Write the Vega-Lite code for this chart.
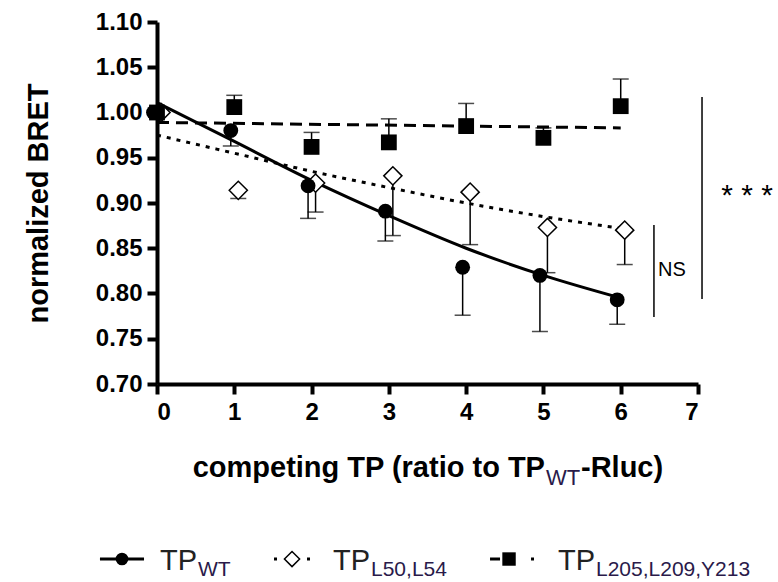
{
  "$schema": "https://vega.github.io/schema/vega-lite/v6.json",
  "width": 541,
  "height": 362,
  "autosize": {"type": "none"},
  "padding": {"left": 157, "top": 22, "right": 80, "bottom": 198},
  "background": "white",
  "config": {
    "view": {"stroke": null},
    "font": "Liberation Sans",
    "axis": {
      "grid": false,
      "domainColor": "black",
      "domainWidth": 4,
      "tickColor": "black",
      "tickWidth": 4,
      "tickSize": 10,
      "labelColor": "black",
      "labelFont": "Liberation Sans",
      "labelFontSize": 24,
      "labelFontWeight": "bold",
      "titleFont": "Liberation Sans",
      "titleFontSize": 29,
      "titleFontWeight": "bold",
      "titleColor": "black"
    }
  },
  "datasets": {
    "pts": [
      {"s": "WT", "x": 0, "y": 1.000, "e": 1.000},
      {"s": "WT", "x": 1, "y": 0.980, "e": 0.963},
      {"s": "WT", "x": 2, "y": 0.919, "e": 0.883},
      {"s": "WT", "x": 3, "y": 0.891, "e": 0.858},
      {"s": "WT", "x": 4, "y": 0.829, "e": 0.776},
      {"s": "WT", "x": 5, "y": 0.820, "e": 0.758},
      {"s": "WT", "x": 6, "y": 0.793, "e": 0.766},
      {"s": "L50", "x": 0, "y": 1.000, "e": 1.000},
      {"s": "L50", "x": 1, "y": 0.914, "e": 0.905},
      {"s": "L50", "x": 2, "y": 0.922, "e": 0.890},
      {"s": "L50", "x": 3, "y": 0.930, "e": 0.864},
      {"s": "L50", "x": 4, "y": 0.912, "e": 0.854},
      {"s": "L50", "x": 5, "y": 0.873, "e": 0.823},
      {"s": "L50", "x": 6, "y": 0.870, "e": 0.832},
      {"s": "L205", "x": 0, "y": 1.000, "e": 1.000},
      {"s": "L205", "x": 1, "y": 1.006, "e": 1.019},
      {"s": "L205", "x": 2, "y": 0.962, "e": 0.978},
      {"s": "L205", "x": 3, "y": 0.967, "e": 0.993},
      {"s": "L205", "x": 4, "y": 0.985, "e": 1.010},
      {"s": "L205", "x": 5, "y": 0.972, "e": 0.983},
      {"s": "L205", "x": 6, "y": 1.007, "e": 1.037}
    ],
    "fits": [
      {"s": "WT", "x": 0, "y": 1.011},
      {"s": "WT", "x": 1, "y": 0.968},
      {"s": "WT", "x": 2, "y": 0.925},
      {"s": "WT", "x": 3, "y": 0.886},
      {"s": "WT", "x": 4, "y": 0.850},
      {"s": "WT", "x": 5, "y": 0.820},
      {"s": "WT", "x": 6, "y": 0.795},
      {"s": "L50", "x": 0, "y": 0.975},
      {"s": "L50", "x": 1, "y": 0.955},
      {"s": "L50", "x": 2, "y": 0.935},
      {"s": "L50", "x": 3, "y": 0.917},
      {"s": "L50", "x": 4, "y": 0.900},
      {"s": "L50", "x": 5, "y": 0.885},
      {"s": "L50", "x": 6, "y": 0.872},
      {"s": "L205", "x": 0, "y": 0.989},
      {"s": "L205", "x": 6, "y": 0.983}
    ]
  },
  "layer": [
    {
      "data": {"name": "fits"},
      "transform": [{"filter": "datum.s == 'WT'"}],
      "mark": {"type": "line", "color": "black", "strokeWidth": 3, "interpolate": "monotone"},
      "encoding": {
        "x": {"field": "x", "type": "quantitative",
              "scale": {"domain": [0, 7], "nice": false, "zero": false},
              "axis": {"values": [0, 1, 2, 3, 4, 5, 6, 7], "format": "d", "title": null, "labelPadding": 6}},
        "y": {"field": "y", "type": "quantitative",
              "scale": {"domain": [0.7, 1.1], "nice": false, "zero": false},
              "axis": {"values": [0.7, 0.75, 0.8, 0.85, 0.9, 0.95, 1.0, 1.05, 1.1], "format": ".2f",
                       "title": "normalized BRET", "labelPadding": 5, "titlePadding": 42}}
      }
    },
    {
      "data": {"name": "fits"},
      "transform": [{"filter": "datum.s == 'L50'"}],
      "mark": {"type": "line", "color": "black", "strokeWidth": 3, "strokeDash": [4, 6], "interpolate": "monotone"},
      "encoding": {"x": {"field": "x", "type": "quantitative"}, "y": {"field": "y", "type": "quantitative"}}
    },
    {
      "data": {"name": "fits"},
      "transform": [{"filter": "datum.s == 'L205'"}],
      "mark": {"type": "line", "color": "black", "strokeWidth": 3, "strokeDash": [12, 7]},
      "encoding": {"x": {"field": "x", "type": "quantitative"}, "y": {"field": "y", "type": "quantitative"}}
    },
    {
      "data": {"name": "pts"},
      "transform": [{"filter": "datum.s == 'L50'"}],
      "mark": {"type": "rule", "color": "black", "strokeWidth": 1.5, "xOffset": 4},
      "encoding": {"x": {"field": "x", "type": "quantitative"}, "y": {"field": "y", "type": "quantitative"}, "y2": {"field": "e"}}
    },
    {
      "data": {"name": "pts"},
      "transform": [{"filter": "datum.s == 'L50' && datum.x > 0"}],
      "mark": {"type": "tick", "orient": "horizontal", "color": "black", "size": 16, "thickness": 1.5, "xOffset": 4},
      "encoding": {"x": {"field": "x", "type": "quantitative"}, "y": {"field": "e", "type": "quantitative"}}
    },
    {
      "data": {"name": "pts"},
      "transform": [{"filter": "datum.s == 'WT'"}],
      "mark": {"type": "rule", "color": "black", "strokeWidth": 1.5, "xOffset": -3.5},
      "encoding": {"x": {"field": "x", "type": "quantitative"}, "y": {"field": "y", "type": "quantitative"}, "y2": {"field": "e"}}
    },
    {
      "data": {"name": "pts"},
      "transform": [{"filter": "datum.s == 'WT' && datum.x > 0"}],
      "mark": {"type": "tick", "orient": "horizontal", "color": "black", "size": 16, "thickness": 1.5, "xOffset": -3.5},
      "encoding": {"x": {"field": "x", "type": "quantitative"}, "y": {"field": "e", "type": "quantitative"}}
    },
    {
      "data": {"name": "pts"},
      "transform": [{"filter": "datum.s == 'L205'"}],
      "mark": {"type": "rule", "color": "black", "strokeWidth": 1.5},
      "encoding": {"x": {"field": "x", "type": "quantitative"}, "y": {"field": "y", "type": "quantitative"}, "y2": {"field": "e"}}
    },
    {
      "data": {"name": "pts"},
      "transform": [{"filter": "datum.s == 'L205' && datum.x > 0"}],
      "mark": {"type": "tick", "orient": "horizontal", "color": "black", "size": 16, "thickness": 1.5},
      "encoding": {"x": {"field": "x", "type": "quantitative"}, "y": {"field": "e", "type": "quantitative"}}
    },
    {
      "data": {"name": "pts"},
      "transform": [{"filter": "datum.s == 'L50'"}],
      "mark": {"type": "point", "shape": "diamond", "filled": true, "fill": "white", "stroke": "black", "strokeWidth": 1.5, "size": 330, "opacity": 1, "xOffset": 4},
      "encoding": {"x": {"field": "x", "type": "quantitative"}, "y": {"field": "y", "type": "quantitative"}}
    },
    {
      "data": {"name": "pts"},
      "transform": [{"filter": "datum.s == 'L205'"}],
      "mark": {"type": "square", "color": "black", "size": 250, "opacity": 1},
      "encoding": {"x": {"field": "x", "type": "quantitative"}, "y": {"field": "y", "type": "quantitative"}}
    },
    {
      "data": {"name": "pts"},
      "transform": [{"filter": "datum.s == 'WT'"}],
      "mark": {"type": "circle", "color": "black", "size": 220, "opacity": 1, "xOffset": -3.5},
      "encoding": {"x": {"field": "x", "type": "quantitative"}, "y": {"field": "y", "type": "quantitative"}}
    },
    {
      "data": {"values": [
        {"x": 6.43, "y": 0.8757, "y2": 0.774},
        {"x": 7.052, "y": 1.0171, "y2": 0.7939}
      ]},
      "mark": {"type": "rule", "color": "black", "strokeWidth": 1.5},
      "encoding": {"x": {"field": "x", "type": "quantitative"}, "y": {"field": "y", "type": "quantitative"}, "y2": {"field": "y2"}}
    },
    {
      "data": {"values": [{"x": 6.482, "y": 0.8193, "t": "NS"}]},
      "mark": {"type": "text", "font": "Liberation Sans", "fontSize": 20, "align": "left", "baseline": "alphabetic", "color": "black"},
      "encoding": {"x": {"field": "x", "type": "quantitative"}, "y": {"field": "y", "type": "quantitative"}, "text": {"field": "t"}}
    },
    {
      "data": {"values": [{"x": 7.3, "y": 0.8978, "t": "* * *"}]},
      "mark": {"type": "text", "font": "Liberation Sans", "fontSize": 30, "align": "left", "baseline": "alphabetic", "color": "black"},
      "encoding": {"x": {"field": "x", "type": "quantitative"}, "y": {"field": "y", "type": "quantitative"}, "text": {"field": "t"}}
    },
    {
      "data": {"values": [{"x": 5.02, "y": 0.5972, "t": "competing TP (ratio to TP"}]},
      "mark": {"type": "text", "font": "Liberation Sans", "fontSize": 29, "fontWeight": "bold", "align": "right", "baseline": "alphabetic", "color": "black"},
      "encoding": {"x": {"field": "x", "type": "quantitative"}, "y": {"field": "y", "type": "quantitative"}, "text": {"field": "t"}}
    },
    {
      "data": {"values": [{"x": 5.486, "y": 0.5972, "t": "-Rluc)"}]},
      "mark": {"type": "text", "font": "Liberation Sans", "fontSize": 29, "fontWeight": "bold", "align": "left", "baseline": "alphabetic", "color": "black"},
      "encoding": {"x": {"field": "x", "type": "quantitative"}, "y": {"field": "y", "type": "quantitative"}, "text": {"field": "t"}}
    },
    {
      "data": {"values": [{"x": 5.033, "y": 0.5884, "t": "WT"}]},
      "mark": {"type": "text", "font": "Liberation Sans", "fontSize": 22, "align": "left", "baseline": "alphabetic", "color": "#2a1a4a"},
      "encoding": {"x": {"field": "x", "type": "quantitative"}, "y": {"field": "y", "type": "quantitative"}, "text": {"field": "t"}}
    },
    {
      "data": {"values": [{"x": -0.738, "x2": -0.168, "y": 0.5066}]},
      "mark": {"type": "rule", "color": "black", "strokeWidth": 3},
      "encoding": {"x": {"field": "x", "type": "quantitative"}, "x2": {"field": "x2"}, "y": {"field": "y", "type": "quantitative"}}
    },
    {
      "data": {"values": [{"x": 1.514, "x2": 1.98, "y": 0.5066}]},
      "mark": {"type": "rule", "color": "black", "strokeWidth": 3, "strokeDash": [3, 30]},
      "encoding": {"x": {"field": "x", "type": "quantitative"}, "x2": {"field": "x2"}, "y": {"field": "y", "type": "quantitative"}}
    },
    {
      "data": {"values": [{"x": 4.309, "x2": 4.878, "y": 0.5066}]},
      "mark": {"type": "rule", "color": "black", "strokeWidth": 3, "strokeDash": [10, 31, 3, 10]},
      "encoding": {"x": {"field": "x", "type": "quantitative"}, "x2": {"field": "x2"}, "y": {"field": "y", "type": "quantitative"}}
    },
    {
      "data": {"values": [{"x": -0.453, "y": 0.5066}]},
      "mark": {"type": "circle", "color": "black", "size": 160, "opacity": 1},
      "encoding": {"x": {"field": "x", "type": "quantitative"}, "y": {"field": "y", "type": "quantitative"}}
    },
    {
      "data": {"values": [{"x": 1.747, "y": 0.5066}]},
      "mark": {"type": "point", "shape": "diamond", "filled": true, "fill": "white", "stroke": "black", "strokeWidth": 1.5, "size": 230, "opacity": 1},
      "encoding": {"x": {"field": "x", "type": "quantitative"}, "y": {"field": "y", "type": "quantitative"}}
    },
    {
      "data": {"values": [{"x": 4.555, "y": 0.5066}]},
      "mark": {"type": "square", "color": "black", "size": 180, "opacity": 1},
      "encoding": {"x": {"field": "x", "type": "quantitative"}, "y": {"field": "y", "type": "quantitative"}}
    },
    {
      "data": {"values": [
        {"x": 0.039, "y": 0.4945, "t": "TP"},
        {"x": 2.277, "y": 0.4945, "t": "TP"},
        {"x": 5.189, "y": 0.4945, "t": "TP"}
      ]},
      "mark": {"type": "text", "font": "Liberation Sans", "fontSize": 29, "align": "left", "baseline": "alphabetic", "color": "#222222"},
      "encoding": {"x": {"field": "x", "type": "quantitative"}, "y": {"field": "y", "type": "quantitative"}, "text": {"field": "t"}}
    },
    {
      "data": {"values": [
        {"x": 0.53, "y": 0.4878, "t": "WT"},
        {"x": 2.769, "y": 0.4878, "t": "L50,L54"},
        {"x": 5.68, "y": 0.4878, "t": "L205,L209,Y213"}
      ]},
      "mark": {"type": "text", "font": "Liberation Sans", "fontSize": 21, "align": "left", "baseline": "alphabetic", "color": "#2a1a4a"},
      "encoding": {"x": {"field": "x", "type": "quantitative"}, "y": {"field": "y", "type": "quantitative"}, "text": {"field": "t"}}
    }
  ]
}
